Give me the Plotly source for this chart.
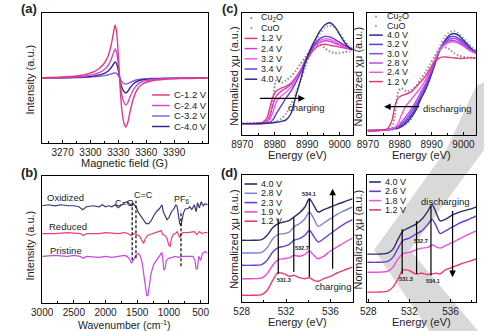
import plotly.graph_objects as go

W, H = 486, 331
FONT = "Liberation Sans, Arial, sans-serif"

def px(x):
    return x / W

def py(y):
    return 1 - y / H

# ---------------- (a) EPR ----------------
a_field = [3248, 3270, 3285, 3295, 3303, 3310, 3315, 3319, 3322, 3324.5, 3326.5, 3328, 3329.5,
           3331, 3332.5, 3334, 3336, 3338, 3340, 3342.5, 3346, 3350, 3356, 3365, 3380, 3400, 3426]
a_c12 = [0.3, 1, 2, 3.5, 6, 10, 15, 22, 32, 44, 53, 47, 30, 6, -18, -34, -45, -49, -45, -34, -21, -12, -6, -3, -1.2, -0.5, 0]
a_c24 = [0.2, 0.6, 1.2, 2, 3.4, 5.6, 8.5, 12.5, 18, 24.5, 29, 26, 17, 4, -9, -18, -24.5, -27, -25, -19, -12, -7, -3.5, -1.7, -0.7, -0.3, 0]
a_c32 = [0, 0.2, 0.4, 0.7, 1.1, 1.7, 2.4, 3.2, 4, 4.7, 5, 4.6, 3.3, 1, -1.8, -4, -5.5, -6, -5.6, -4.5, -3, -1.8, -1, -0.5, -0.2, -0.1, 0]
a_c40 = [0.1, 0.3, 0.6, 1.1, 1.9, 3.1, 4.7, 7, 10, 13.5, 16, 14.5, 9.5, 2, -5, -10, -13.5, -15, -13.5, -10, -6, -3.5, -1.8, -0.9, -0.4, -0.2, 0]
a_labels = ["C-1.2 V", "C-2.4 V", "C-3.2 V", "C-4.0 V"]
a_ticks = [3270, 3300, 3330, 3360, 3390]

# ---------------- (b) FTIR ----------------
b_ox_wn = [3000, 2900, 2800, 2700, 2600, 2500, 2420, 2360, 2300, 2200, 2100, 2050, 2000, 1950, 1900, 1850,
           1800, 1750, 1700, 1660, 1620, 1590, 1560, 1520, 1480, 1440, 1400, 1360, 1320, 1280, 1240, 1200,
           1150, 1110, 1090, 1060, 1030, 1000, 960, 920, 890, 870, 850, 830, 810, 790, 770, 740, 700, 670,
           640, 600, 570, 550, 520, 490, 460, 430, 400, 390]
b_ox_val = [98, 99, 98, 99, 98, 98, 97, 94, 97, 98, 97, 99, 97, 98, 97, 99,
            96, 99, 101, 102, 100, 98, 100, 97, 91, 87, 83, 80, 80, 83, 88, 92,
            95, 99, 92, 87, 84, 86, 92, 95, 99, 97, 90, 80, 78, 83, 91, 95, 95, 97,
            94, 99, 92, 101, 96, 102, 98, 100, 99, 100]
b_red_wn = [3000, 2800, 2600, 2400, 2350, 2300, 2100, 2000, 1800, 1700, 1650, 1600, 1560, 1500, 1460, 1420,
            1400, 1380, 1340, 1300, 1250, 1200, 1150, 1120, 1100, 1060, 1030, 1000, 980, 960, 930, 900,
            870, 850, 830, 810, 780, 700, 600, 560, 520, 480, 430, 390]
b_red_val = [70, 70, 71, 70, 68, 70, 70, 71, 70, 71, 70, 68, 70, 69, 67, 62,
             60, 64, 68, 69, 70, 71, 72, 73, 69, 68, 65, 58, 57, 65, 69, 70,
             72, 69, 66, 69, 71, 71, 72, 69, 72, 70, 71, 71]
b_pri_wn = [3000, 2800, 2600, 2500, 2400, 2350, 2300, 2100, 2000, 1900, 1800, 1700, 1660, 1620, 1590, 1560,
            1520, 1480, 1450, 1420, 1390, 1370, 1350, 1330, 1310, 1280, 1240, 1200, 1150, 1110, 1095, 1080,
            1060, 1040, 1000, 950, 900, 850, 800, 700, 620, 590, 570, 550, 530, 500, 470, 430, 390]
b_pri_val = [47, 48, 47, 48, 47, 45, 47, 46, 47, 46, 47, 48, 47, 44, 40, 43,
             48, 50, 47, 40, 27, 15, 7, 8, 18, 30, 39, 43, 47, 51, 43, 33,
             35, 43, 45, 46, 47, 46, 47, 47, 47, 43, 34, 35, 47, 43, 50, 52, 50]
b_names = ["Oxidized", "Reduced", "Pristine"]
b_bands = [1580, 1520, 810]
b_band_lo = [43, 45, 37]
b_band_hi = [101, 103, 93]
b_ticks = [3000, 2500, 2000, 1500, 1000, 500]

# ---------------- (c) Cu K-edge XANES ----------------
c_energy = [8970, 8974, 8976, 8977.5, 8978.5, 8979.5, 8980.5, 8982, 8983.5, 8985, 8986.5, 8988,
            8989.5, 8991, 8992.5, 8994, 8995.5, 8997, 8998.5, 9000, 9001.5, 9003, 9004]
cl_cu2o = [11.7, 12, 12.3, 13.5, 19, 36, 56, 53.5, 56, 60, 66, 73, 80, 87, 92, 92.5, 89, 85.5, 84, 84, 85, 85.5, 86]
cl_cuo = [11.7, 11.8, 12, 12.2, 12.5, 13, 14, 16.5, 22, 32, 43, 56, 70, 83, 95, 104, 110, 112, 110, 104, 97, 91, 88]
cl_12 = [11.7, 11.8, 12.5, 17, 28, 40, 45, 48, 50, 53, 59, 66, 75, 83, 89, 92, 93, 92, 91, 90, 89, 88, 87.5]
cl_24 = [11.7, 11.8, 12, 14, 20, 32, 40, 45, 48, 52, 59, 67, 77, 85, 92, 95, 96.5, 96, 94, 92, 90, 88.5, 88]
cl_32 = [11.7, 11.7, 11.8, 13, 16, 24, 34, 40, 44, 49, 57, 66, 77, 86, 93, 97, 98.5, 98, 96, 93, 91, 89, 88]
cl_34 = [11.7, 11.7, 11.8, 12, 13, 16, 22, 30, 38, 45, 54, 64, 76, 86, 94, 99, 101, 100.5, 98, 95, 92, 89.5, 88]
cl_40 = [11.7, 11.7, 11.8, 12, 12.2, 12.5, 13, 14, 15.5, 22, 40, 57, 75, 88, 98, 107, 113, 115, 111, 103, 95, 89, 87]
cl_labels = ["Cu<sub>2</sub>O", "CuO", "1.2 V", "2.4 V", "3.2 V", "3.4 V", "4.0 V"]

cr_cu2o = [5, 5.2, 5.5, 7, 20, 44, 48, 45, 46, 50, 57, 64, 72, 81, 88, 90, 88, 84, 81.5, 80, 79.5, 79, 78]
cr_cuo = [4.5, 4.7, 5, 5.5, 6, 7, 8.5, 11, 16, 28, 37, 45, 58, 74, 90, 100, 105, 106.5, 104, 99, 94, 89, 87]
cr_40 = [4.3, 4.8, 5.3, 6, 6.5, 7, 8.5, 12, 17.5, 25, 36, 46, 58, 72, 86, 96, 102, 104, 102, 97, 92, 87, 85]
cr_32 = [4.3, 4.8, 5.3, 6, 7, 8, 10, 14, 20, 28, 38, 48, 60, 74, 87, 95, 100, 101, 99, 95, 90, 86, 84]
cr_30 = [4.3, 4.8, 5.4, 6.2, 7.2, 8.5, 11, 16, 23, 31, 40, 50, 62, 75, 87, 94, 98, 99, 97, 93, 89, 85.5, 84]
cr_28 = [4.3, 4.8, 5.5, 6.5, 7.5, 9, 13, 19, 26, 34, 43, 52, 64, 76, 87, 93, 96.5, 97, 95, 92, 88, 85, 84]
cr_24 = [4.3, 4.8, 5.5, 6.5, 8, 12, 20, 30, 36, 42, 48, 56, 66, 77, 87, 92, 95, 95.5, 94, 91, 87.5, 85, 84]
cr_12 = [4.5, 5, 6, 14, 30, 38, 40, 42, 44, 49, 54, 60, 68, 75, 79, 80, 79.5, 79, 78.5, 78.5, 79, 79, 79]
cr_labels = ["Cu<sub>2</sub>O", "CuO", "4.0 V", "3.2 V", "3.0 V", "2.8 V", "2.4 V", "1.2 V"]
c_ticks = [8970, 8980, 8990, 9000]

# ---------------- (d) O K-edge ----------------
dl_energy = [528, 529, 529.8, 530.3, 530.8, 531.3, 531.8, 532.3, 532.7, 533.2, 533.7, 534.1, 534.5,
             534.9, 535.4, 536, 536.6, 537.2, 538]
dl_12 = [6.7, 6.7, 7.3, 11.7, 21.7, 29.3, 28.3, 25.7, 26.7, 24.3, 23.3, 24.3, 21.7, 20.7, 23.3, 25.7, 29, 31.7, 35]
dl_19 = [23.3, 23.3, 24, 28.3, 36.7, 42.3, 43.3, 44.3, 46.7, 45.7, 47.7, 51, 46.7, 43.3, 45.7, 51, 55, 59, 64]
dl_23 = [36.7, 36.7, 37.3, 41.7, 50, 54.3, 55.7, 57.7, 61.7, 63.3, 66.7, 71.7, 65.7, 60, 63.3, 68.3, 73.3, 77.7, 82.3]
dl_28 = [49, 49, 49.7, 54.3, 63.3, 67.7, 68.3, 70, 75, 78.3, 83.3, 90, 83.3, 75.7, 79, 83.3, 87.7, 91, 95]
dl_40 = [61.7, 61.7, 62.3, 66.7, 74.3, 78.3, 80, 81.7, 85, 89, 95, 103.3, 96.7, 90, 92.3, 95, 97.7, 100, 103.3]
dl_labels = ["4.0 V", "2.8 V", "2.3 V", "1.9 V", "1.2 V"]

dr_energy = [527.9, 529, 529.9, 530.4, 530.9, 531.4, 532, 532.6, 533.2, 533.8, 534.2, 534.6, 535,
             535.5, 536.2, 537, 537.8, 538.5]
dr_12 = [10, 10, 11, 15, 23.3, 32.3, 31.7, 28.3, 29, 27.7, 28.3, 29, 28.3, 32.3, 35, 38.3, 41, 43.3]
dr_18 = [30, 30, 31, 35, 43.3, 49, 50, 52.3, 54.3, 55, 57.7, 55.7, 54.3, 56.7, 60, 64.3, 68.3, 71.7]
dr_26 = [40, 40, 41, 45, 54.3, 62.3, 64.3, 68.3, 71.7, 78.3, 83.3, 76.7, 69, 71.7, 75.7, 80, 83.3, 86.7]
dr_40 = [48.3, 48.3, 49.3, 53.3, 63.3, 71.7, 75, 78.3, 83.3, 91.7, 98.3, 90, 81.7, 83.3, 87.7, 91, 93.3, 95.7]
dr_labels = ["4.0 V", "2.6 V", "1.8 V", "1.2 V"]
d_ticks = [528, 532, 536]

d_peaks = [531.3, 532.7, 534.1]
d_peak_labels = ["531.3", "532.7", "534.1"]
dl_peak_lo = [28.3, 30, 25]
dl_peak_hi = [83.3, 85, 103]
dr_peak_lo = [28.3, 28.3, 26.7]
dr_peak_hi = [73.3, 81.7, 96.7]

# ---------------- colours ----------------
PINK = "#e8387f"
MAG = "#d046d8"
VIO = "#8a5cf0"
NAVY = "#2c2c86"
GREY = "#8c8c8c"

fig = go.Figure()

def line(xa, ya, x, y, color, width=1.4, shape="spline", dash=None):
    fig.add_trace(go.Scatter(x=x, y=y, xaxis=xa, yaxis=ya, mode="lines",
                             line=dict(color=color, width=width, shape=shape, dash=dash,
                                       smoothing=0.8 if shape == "spline" else None),
                             showlegend=False, hoverinfo="skip"))

# (a)
line("x", "y", a_field, a_c32, VIO)
line("x", "y", a_field, a_c40, NAVY)
line("x", "y", a_field, a_c24, MAG)
line("x", "y", a_field, a_c12, PINK)

# (b)
line("x2", "y2", b_ox_wn, b_ox_val, "#3a3a78", 1.2, "linear")
line("x2", "y2", b_red_wn, b_red_val, "#e8407a", 1.2, "linear")
line("x2", "y2", b_pri_wn, b_pri_val, "#c24ae0", 1.2, "linear")
for wn, lo, hi in zip(b_bands, b_band_lo, b_band_hi):
    line("x2", "y2", [wn, wn], [lo, hi], "black", 1.2, "linear", "3px,2px")

# (c) left
DOT = "1.5px,2px"
line("x3", "y3", c_energy, cl_cu2o, GREY, 2, "spline", DOT)
line("x3", "y3", c_energy, cl_cuo, "#a0a0a0", 2, "spline", DOT)
cl_cols = [PINK, "#d63ad6", "#f05ae8", "#6a3ad8", NAVY]
for ys, col in zip([cl_12, cl_24, cl_32, cl_34, cl_40], cl_cols):
    line("x3", "y3", c_energy, ys, col)

# (c) right
line("x4", "y4", c_energy, cr_cu2o, GREY, 2, "spline", DOT)
line("x4", "y4", c_energy, cr_cuo, "#a0a0a0", 2, "spline", DOT)
cr_cols = [NAVY, "#5a3ae0", "#8a4ae6", "#b84ae0", "#ee55e6", PINK]
for ys, col in zip([cr_40, cr_32, cr_30, cr_28, cr_24, cr_12], cr_cols):
    line("x4", "y4", c_energy, ys, col)

# (d) left
dl_cols = ["#2c2c70", "#8080dd", "#6a40d8", "#f04ad8", "#e83a78"]
for ys, col in zip([dl_40, dl_28, dl_23, dl_19, dl_12], dl_cols):
    line("x5", "y5", dl_energy, ys, col)
for e, lo, hi in zip(d_peaks, dl_peak_lo, dl_peak_hi):
    line("x5", "y5", [e, e], [lo, hi], "black", 1.2, "linear")

# (d) right
dr_cols = ["#2c2c70", "#6a36d8", "#ee50e0", "#e83a78"]
for ys, col in zip([dr_40, dr_26, dr_18, dr_12], dr_cols):
    line("x6", "y6", dr_energy, ys, col)
for e, lo, hi in zip(d_peaks, dr_peak_lo, dr_peak_hi):
    line("x6", "y6", [e, e], [lo, hi], "black", 1.2, "linear")

# ---------------- axes ----------------
def xax(x0, x1, rng, tickvals, mdt, m0, anchor):
    return dict(domain=[px(x0), px(x1)], range=rng, anchor=anchor, tickmode="array", tickvals=tickvals,
                ticks="inside", ticklen=3, tickwidth=1, tickcolor="black",
                showline=True, linecolor="black", linewidth=1, mirror=True,
                showgrid=False, zeroline=False,
                tickfont=dict(family=FONT, size=10, color="#222"),
                minor=dict(ticks="inside", ticklen=2, dtick=mdt, tick0=m0, tickcolor="black"))

def yax(y0, y1, rng, anchor):
    return dict(domain=[py(y1), py(y0)], range=rng, anchor=anchor,
                showticklabels=False, ticks="", showline=True, linecolor="black",
                linewidth=1, mirror=True, showgrid=False, zeroline=False)

lay = {}
lay["xaxis"] = xax(32, 202, [3248, 3426], a_ticks, 15, 3270, "y")
lay["yaxis"] = yax(13, 143, [-65, 65], "x")
lay["xaxis2"] = xax(32, 202, [3000, 390], b_ticks, 250, 500, "y2")
lay["yaxis2"] = yax(176, 303, [0, 128], "x2")
lay["xaxis3"] = xax(237, 351, [8969.8, 9004], c_ticks, 5, 8970, "y3")
lay["yaxis3"] = yax(13, 135, [0, 125], "x3")
lay["xaxis4"] = xax(366, 478, [8969.8, 9004], c_ticks, 5, 8970, "y4")
lay["yaxis4"] = yax(13, 135, [0, 125], "x4")
lay["xaxis5"] = xax(237, 351, [528, 538], d_ticks, 2, 528, "y5")
lay["yaxis5"] = yax(175, 302, [0, 127], "x5")
lay["xaxis6"] = xax(366, 478, [527.9, 538.5], d_ticks, 2, 528, "y6")
lay["yaxis6"] = yax(175, 302, [0, 128], "x6")

ann = []
shapes = []

def text(x, y, s, size=10, bold=False, angle=0, xanchor="center", color="#222"):
    if bold:
        s = "<b>" + s + "</b>"
    ann.append(dict(x=px(x), y=py(y), xref="paper", yref="paper", text=s, showarrow=False,
                    font=dict(family=FONT, size=size, color=color), textangle=angle,
                    xanchor=xanchor, yanchor="middle"))

def dtext(xa, ya, x, y, s, size=9, bold=False, xanchor="center"):
    if bold:
        s = "<b>" + s + "</b>"
    ann.append(dict(x=x, y=y, xref=xa, yref=ya, text=s, showarrow=False,
                    font=dict(family=FONT, size=size, color="#222"), xanchor=xanchor, yanchor="middle"))

def arrow(xa, ya, x0, y0, x1, y1):
    ann.append(dict(x=x1, y=y1, ax=x0, ay=y0, xref=xa, yref=ya, axref=xa, ayref=ya, text="",
                    showarrow=True, arrowhead=2, arrowsize=1.1, arrowwidth=1.2, arrowcolor="black"))

def leg_line(x0, x1, y, color, width=1.5):
    shapes.append(dict(type="line", xref="paper", yref="paper", x0=px(x0), x1=px(x1), y0=py(y), y1=py(y),
                       line=dict(color=color, width=width)))

def leg_dot(x, y, color=GREY):
    shapes.append(dict(type="circle", xref="paper", yref="paper", x0=px(x - 1.1), x1=px(x + 1.1),
                       y0=py(y + 1.1), y1=py(y - 1.1), fillcolor=color, line=dict(width=0)))

# panel letters
text(19, 9, "(a)", 13, True)
text(19, 172, "(b)", 13, True)
text(225, 9, "(c)", 13, True)
text(225, 172, "(d)", 13, True)

# axis titles
text(117, 163, "Magnetic field (G)", 11)
text(20, 79, "Intensity (a.u.)", 11, angle=-90)
text(117, 324.5, "Wavenumber (cm<sup>-1</sup>)", 10.5)
text(20, 245, "Intensity (a.u.)", 11, angle=-90)
for xc, yc in [(294, 155), (422, 155), (294, 322), (422, 322)]:
    text(xc, yc, "Energy (eV)", 11)
for xc, yc in [(229, 76), (357, 76), (229, 239), (357, 239)]:
    text(xc, yc, "Normalized \u03c7\u03bc (a.u.)", 11, angle=-90)

# (a) legend
for i, (lab, col) in enumerate(zip(a_labels, [PINK, MAG, VIO, NAVY])):
    yy = 95 + i * 10.5
    leg_line(145, 163, yy, col)
    text(165, yy, lab, 9.5, xanchor="left")

# (b) labels
dtext("x2", "y2", 2630, 106, b_names[0], 9.5)
dtext("x2", "y2", 2600, 77, b_names[1], 9.5)
dtext("x2", "y2", 2630, 53, b_names[2], 9.5)
dtext("x2", "y2", 1700, 101, "C=O", 9)
dtext("x2", "y2", 1400, 109, "C=C", 9)
dtext("x2", "y2", 790, 105, "PF<sub>6</sub><sup>-</sup>", 9)

# (c) left legend
for i, lab in enumerate(cl_labels):
    yy = 18 + i * 10.2
    if i < 2:
        leg_dot(247, yy, GREY if i == 0 else "#a0a0a0")
    else:
        leg_line(240, 253, yy, cl_cols[i - 2])
    text(255, yy, lab, 9, xanchor="left")
arrow("x3", "y3", 8975, 37.5, 8989.3, 37.5)
dtext("x3", "y3", 8983.6, 28.5, "charging", 9.5, xanchor="left")

# (c) right legend
for i, lab in enumerate(cr_labels):
    yy = 16.5 + i * 9.3
    if i < 2:
        leg_dot(375, yy, GREY if i == 0 else "#a0a0a0")
    else:
        leg_line(368, 382, yy, cr_cols[i - 2])
    text(384, yy, lab, 9, xanchor="left")
arrow("x4", "y4", 8986.6, 29, 8975.1, 29)
dtext("x4", "y4", 8986.6, 26.7, "discharging", 9.5, xanchor="left")

# (d) left legend
for i, lab in enumerate(dl_labels):
    yy = 184 + i * 9.3
    leg_line(240, 253, yy, dl_cols[i], 1.6)
    text(255, yy, lab, 9, xanchor="left")
dtext("x5", "y5", 531.8, 21.7, d_peak_labels[0], 5.5, True)
dtext("x5", "y5", 533.4, 54.3, d_peak_labels[1], 5.5, True)
dtext("x5", "y5", 534.1, 108.3, d_peak_labels[2], 5.5, True)
arrow("x5", "y5", 536.2, 31.7, 536.2, 113.3)
dtext("x5", "y5", 536.2, 15.7, "charging", 9.5)

# (d) right legend
for i, lab in enumerate(dr_labels):
    yy = 182 + i * 9.3
    leg_line(368, 380, yy, dr_cols[i], 1.6)
    text(382, yy, lab, 9, xanchor="left")
dtext("x6", "y6", 531.7, 23.3, d_peak_labels[0], 5.5, True)
dtext("x6", "y6", 533.1, 61, d_peak_labels[1], 5.5, True)
dtext("x6", "y6", 534.3, 21, d_peak_labels[2], 5.5, True)
arrow("x6", "y6", 536.2, 93.3, 536.2, 25)
dtext("x6", "y6", 535.5, 101.7, "discharging", 9.5)

# grey watermark strokes (background decoration)
def poly(pts):
    path = "M " + " L ".join("{:.4f},{:.4f}".format(px(x), py(y)) for x, y in pts) + " Z"
    shapes.append(dict(type="path", xref="paper", yref="paper", path=path, layer="below",
                       fillcolor="#d2d2d2", line=dict(width=0), opacity=0.85))

poly([(447, 150), (478, 86), (486, 82), (486, 150), (410, 250), (373, 250)])
poly([(373, 250), (410, 250), (480, 331), (430, 331)])

fig.update_layout(**lay)
fig.update_layout(width=W, height=H, margin=dict(l=0, r=0, t=0, b=0),
                  paper_bgcolor="white", plot_bgcolor="rgba(0,0,0,0)",
                  annotations=ann, shapes=shapes, showlegend=False,
                  font=dict(family=FONT, color="#222"))
fig.write_html("out.html")
